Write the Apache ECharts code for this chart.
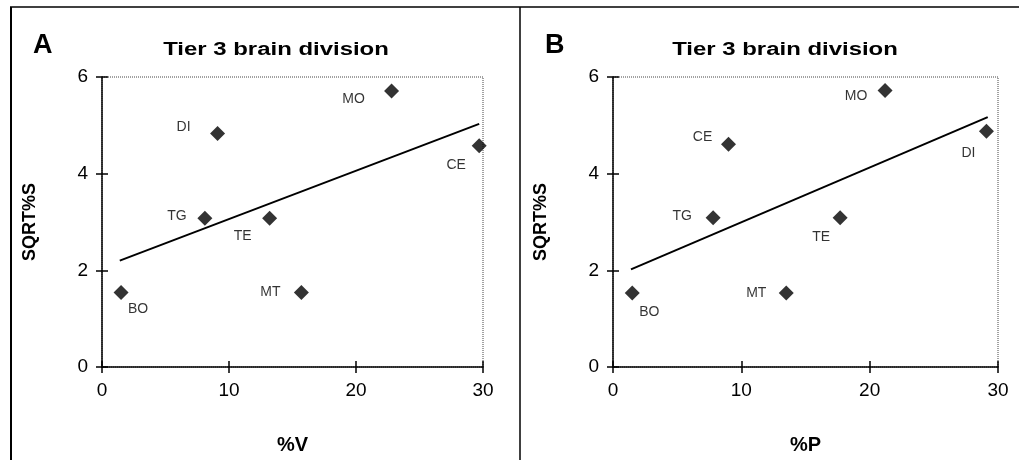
<!DOCTYPE html>
<html>
<head>
<meta charset="utf-8">
<script src="https://cdn.jsdelivr.net/npm/echarts@6/dist/echarts.min.js"></script>
<style>
html,body{margin:0;padding:0;background:#fff;}
#chart{width:1019px;height:460px;}
</style>
</head>
<body>
<div id="chart"></div>
<script>
// ---- data ----
var names = ['MO', 'DI', 'CE', 'TG', 'TE', 'BO', 'MT'];
var percentV = [22.8, 9.1, 29.7, 8.1, 13.2, 1.5, 15.7];
var sqrtS_A = [5.71, 4.83, 4.58, 3.08, 3.08, 1.54, 1.54];
var percentP = [21.2, 29.1, 9.0, 7.8, 17.7, 1.5, 13.5];
var sqrtS_B = [5.72, 4.88, 4.61, 3.09, 3.09, 1.53, 1.53];
var trendA_x = [1.4, 29.7];
var trendA_y = [2.20, 5.03];
var trendB_x = [1.4, 29.2];
var trendB_y = [2.02, 5.17];
var xTicks = [0, 10, 20, 30];
var yTicks = [0, 2, 4, 6];
var panelLetters = ['A', 'B'];
var panelTitle = 'Tier 3 brain division';
var yName = 'SQRT%S';
var xNames = ['%V', '%P'];

// ---- label placement (styling, kept apart from data) ----
var labelOffA = {MO:[-38,8], DI:[-34,-6], CE:[-23,20], TG:[-28,-2], TE:[-27,18], BO:[17,17], MT:[-31,0]};
var labelOffB = {MO:[-29,6], CE:[-26,-7], DI:[-18,22], TG:[-31,-2], TE:[-19,19], BO:[17,19], MT:[-30,0]};

var FONT = '"Liberation Sans", Arial, Helvetica, sans-serif';
var grids = [
  {left:102, top:77, width:381, height:292},
  {left:613, top:77, width:385, height:293}
];

function pts(xs, ys, offs) {
  return names.map(function(n, i){
    return {name:n, value:[xs[i], ys[i]], label:{offset:offs[n]}};
  });
}

var xAxes = [], yAxes = [];
var tickStyle = {color:'#000', width:1.5};
grids.forEach(function(g, gi){
  var xmin = xTicks[0], xmax = xTicks[xTicks.length-1];
  var ymin = yTicks[0], ymax = yTicks[yTicks.length-1];
  xAxes.push({
    gridIndex: gi, type:'value', position:'bottom', min:xmin, max:xmax, interval:xTicks[1]-xTicks[0],
    name: xNames[gi], nameLocation:'middle', nameGap:68,
    nameTextStyle:{fontFamily:FONT, fontWeight:'bold', fontSize:20, color:'#000'},
    axisLine:{show:true, onZero:false, lineStyle:{color:'#000', width:1.5}},
    axisTick:{show:true, inside:false, length:6, lineStyle:tickStyle},
    axisLabel:{fontFamily:FONT, fontSize:19, color:'#000', margin:14},
    splitLine:{show:false}
  });
  xAxes.push({
    gridIndex: gi, type:'value', position:'bottom', min:xmin, max:xmax, interval:xTicks[1]-xTicks[0],
    axisLine:{show:false, onZero:false},
    axisTick:{show:true, inside:true, length:6, lineStyle:tickStyle},
    axisLabel:{show:false}, splitLine:{show:false}
  });
  yAxes.push({
    gridIndex: gi, type:'value', position:'left', min:ymin, max:ymax, interval:yTicks[1]-yTicks[0],
    name: yName, nameLocation:'middle', nameGap:63, nameRotate:90,
    nameTextStyle:{fontFamily:FONT, fontWeight:'bold', fontSize:18, color:'#000'},
    axisLine:{show:true, onZero:false, lineStyle:{color:'#000', width:1.5}},
    axisTick:{show:true, inside:false, length:6, lineStyle:tickStyle},
    axisLabel:{fontFamily:FONT, fontSize:19, color:'#000', margin:14},
    splitLine:{show:false}
  });
  yAxes.push({
    gridIndex: gi, type:'value', position:'left', min:ymin, max:ymax, interval:yTicks[1]-yTicks[0],
    axisLine:{show:false, onZero:false},
    axisTick:{show:true, inside:true, length:6, lineStyle:tickStyle},
    axisLabel:{show:false}, splitLine:{show:false}
  });
});

function scatterSeries(gi, data) {
  return {
    type:'scatter', xAxisIndex: gi*2, yAxisIndex: gi*2, data:data,
    symbol:'diamond', symbolSize:15, itemStyle:{color:'#000'},
    label:{show:true, position:'inside', formatter:'{b}', fontFamily:FONT, fontSize:14, color:'#000'},
    z:3, silent:true
  };
}
function trendSeries(gi, xs, ys) {
  return {
    type:'line', xAxisIndex: gi*2, yAxisIndex: gi*2,
    data: xs.map(function(x,i){return [x, ys[i]];}),
    symbol:'none', lineStyle:{color:'#000', width:2}, z:2, silent:true
  };
}

var option = {
  backgroundColor:'#fff',
  animation:false,
  grid: grids.map(function(g){
    return {left:g.left, top:g.top, width:g.width, height:g.height, show:true,
            borderColor:'#444', borderWidth:1, borderType:'dotted', backgroundColor:'transparent'};
  }),
  xAxis: xAxes,
  yAxis: yAxes,
  series: [
    trendSeries(0, trendA_x, trendA_y),
    scatterSeries(0, pts(percentV, sqrtS_A, labelOffA)),
    trendSeries(1, trendB_x, trendB_y),
    scatterSeries(1, pts(percentP, sqrtS_B, labelOffB))
  ],
  graphic: [
    {type:'line', shape:{x1:11, y1:7, x2:11, y2:460}, style:{stroke:'#000', lineWidth:2}, silent:true},
    {type:'line', shape:{x1:10, y1:7, x2:1019, y2:7}, style:{stroke:'#000', lineWidth:1.5}, silent:true},
    {type:'line', shape:{x1:520, y1:7, x2:520, y2:460}, style:{stroke:'#000', lineWidth:1.5}, silent:true},
    {type:'text', x:33, y:46, style:{text:panelLetters[0], font:'bold 27px ' + FONT, fill:'#000', textVerticalAlign:'middle'}},
    {type:'text', x:545, y:46, style:{text:panelLetters[1], font:'bold 27px ' + FONT, fill:'#000', textVerticalAlign:'middle'}},
    {type:'text', x:276, y:50, scaleX:1.33, style:{text:panelTitle, font:'bold 18px ' + FONT, fill:'#000', textAlign:'center', textVerticalAlign:'middle'}},
    {type:'text', x:785, y:50, scaleX:1.33, style:{text:panelTitle, font:'bold 18px ' + FONT, fill:'#000', textAlign:'center', textVerticalAlign:'middle'}}
  ]
};

var chart = echarts.init(document.getElementById('chart'), null, {renderer:'canvas'});
chart.setOption(option);
</script>
</body>
</html>
